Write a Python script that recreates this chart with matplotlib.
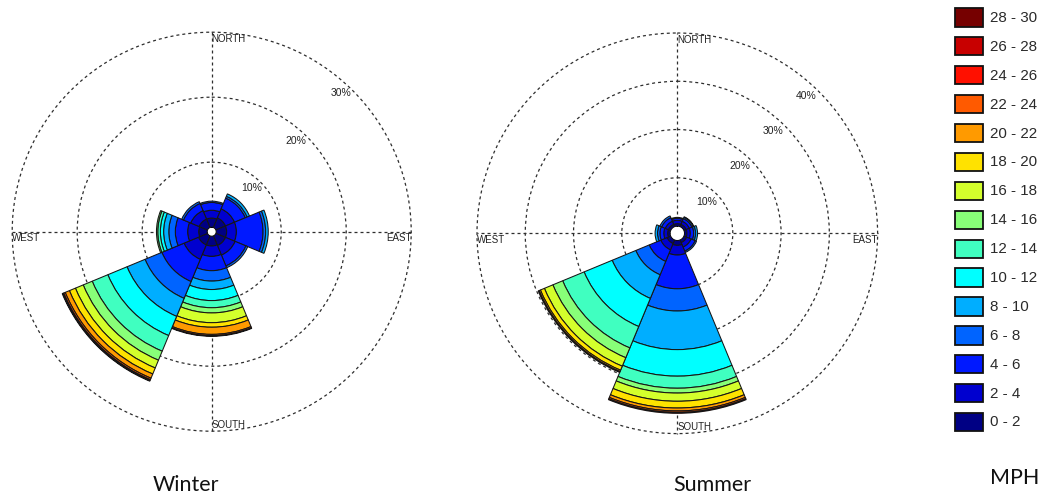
import numpy as np
import matplotlib
matplotlib.use("Agg")
import matplotlib.pyplot as plt
import matplotlib.transforms as mtransforms
from matplotlib.patches import Rectangle

# ---- data -------------------------------------------------------------
bearings_deg = [0, 45, 90, 135, 180, 225, 270, 315]          # N, NE, E, SE, S, SW, W, NW
speed_bins = ["0 - 2", "2 - 4", "4 - 6", "6 - 8", "8 - 10", "10 - 12", "12 - 14",
              "14 - 16", "16 - 18", "18 - 20", "20 - 22", "22 - 24", "24 - 26",
              "26 - 28", "28 - 30"]
bin_colors = ["#000084", "#0000cf", "#0019ff", "#0064ff", "#00aeff", "#00ffff",
              "#40ffc0", "#88ff78", "#d4ff2c", "#ffe200", "#ff9a00", "#ff5a00",
              "#ff1000", "#c80000", "#760000"]

# frequency (%) per speed bin, lowest bin first
winter_n = [1.4, 1.2, 1.2, 0.2]
winter_ne = [1.6, 1.5, 1.8, 0.3, 0.4]
winter_e = [1.6, 1.5, 4.1, 0.4, 0.4]
winter_se = [1.6, 1.6, 1.8, 0.3]
winter_s = [1.5, 1.6, 2.2, 1.6, 1.3, 1.7, 1.1, 0.8, 1.5, 0.7, 1.1, 0.2, 0.1]
winter_sw = [1.5, 2.4, 3.7, 2.8, 3.0, 3.2, 2.6, 1.5, 1.3, 1.0, 0.7, 0.25, 0.15, 0.1]
winter_w = [1.3, 1.7, 1.9, 1.0, 0.8, 0.5, 0.4, 0.2]
winter_nw = [1.4, 1.4, 1.2, 0.3]

summer_n = [0.5, 0.7, 0.4, 0.2]
summer_ne = [0.5, 0.7, 0.6, 0.3, 0.1]
summer_e = [0.5, 0.7, 0.7, 0.4, 0.4]
summer_se = [0.6, 1.0, 0.9, 0.3]
summer_s = [1.0, 2.0, 7.0, 4.6, 8.0, 5.5, 2.5, 1.0, 1.7, 1.4, 0.6, 0.3, 0.2]
summer_sw = [0.8, 1.4, 2.6, 3.0, 5.3, 6.3, 4.8, 2.2, 1.9, 0.9, 0.3, 0.2]
summer_w = [0.5, 0.8, 0.8, 0.5, 0.5]
summer_nw = [0.5, 0.7, 0.8, 0.4]

winter_rings = [10, 20, 30]
summer_rings = [10, 20, 30, 40]

winter = [winter_n, winter_ne, winter_e, winter_se, winter_s, winter_sw, winter_w, winter_nw]
summer = [summer_n, summer_ne, summer_e, summer_se, summer_s, summer_sw, summer_w, summer_nw]

# ---- figure -----------------------------------------------------------
W, H = 1042, 495
fig = plt.figure(figsize=(W / 100, H / 100), dpi=100)
fig.patch.set_facecolor("white")

small_font = dict(family=["Liberation Sans", "DejaVu Sans"], color="#222222")
grid_style = dict(color="#2e2e2e", linestyle=(0, (2.4, 2.4)), linewidth=0.9)


def px_axes(cx, cy, r):
    return fig.add_axes([(cx - r) / W, 1 - (cy + r) / H, 2 * r / W, 2 * r / H],
                        projection="polar")


def draw_rose(ax, table, rings, hole, label_inset):
    ax.set_theta_zero_location("N")
    ax.set_theta_direction(-1)
    width = np.deg2rad(45)
    for bearing, bins in zip(bearings_deg, table):
        bottom = 0.0
        for i, v in enumerate(bins):
            ax.bar(np.deg2rad(bearing), v, width=width, bottom=bottom,
                   color=bin_colors[i], edgecolor="#151515", linewidth=0.75,
                   align="center", zorder=3)
            bottom += v
    rmax = rings[-1]
    ax.set_ylim(0, rmax)
    ax.set_rorigin(-hole)
    ax.set_axisbelow(True)
    ax.set_rgrids(rings, labels=[""] * len(rings))
    ax.set_thetagrids([0, 90, 180, 270], labels=[""] * 4)
    ax.grid(True, **grid_style)
    ax.tick_params(length=0)
    ax.spines["polar"].set_visible(False)
    for gl in ax.yaxis.get_gridlines() + ax.xaxis.get_gridlines():
        gl.set_clip_on(False)

    # compass words on the outer ring
    fs = 7.0
    down = mtransforms.offset_copy(ax.transData, fig=fig, x=0, y=-1.2, units="points")
    ax.text(0, rmax, "NORTH", ha="left", va="top", fontsize=fs,
            transform=down, **small_font)
    ax.text(np.pi, rmax, "SOUTH", ha="left", va="bottom", fontsize=fs,
            transform=mtransforms.offset_copy(ax.transData, fig=fig, x=0, y=1.0, units="points"),
            **small_font)
    ax.text(1.5 * np.pi, rmax, "WEST", ha="left", va="top", fontsize=fs,
            transform=down, **small_font)
    ax.text(0.5 * np.pi, rmax, "EAST", ha="right", va="top", fontsize=fs,
            transform=down, **small_font)

    # percent labels along the north-east diagonal
    for v in rings:
        ax.text(np.deg2rad(43), v - label_inset, f"{v}%", ha="center", va="center",
                fontsize=7.5, **small_font)


ax_w = px_axes(211.7, 231.7, 199.5)
draw_rose(ax_w, winter, winter_rings, hole=0.7, label_inset=1.6)

ax_s = px_axes(677.3, 233.3, 200.3)
draw_rose(ax_s, summer, summer_rings, hole=1.5, label_inset=2.5)

# ---- colour key -------------------------------------------------------
key = fig.add_axes([0, 0, 1, 1], facecolor="none")
key.set_xlim(0, W)
key.set_ylim(H, 0)
key.axis("off")
for j, (lab, col) in enumerate(zip(speed_bins[::-1], bin_colors[::-1])):
    top = 8.3 + 28.9 * j
    key.add_patch(Rectangle((955, top), 27.7, 18.3, facecolor=col,
                            edgecolor="#111111", linewidth=1.3))
    key.text(989.5, top + 9.6, lab, ha="left", va="center", fontsize=10.9,
             family=["Liberation Sans", "DejaVu Sans"], color="#2a2a2a")

title_font = dict(family=["Lato", "DejaVu Sans"], color="#111111")
key.text(186, 485, "Winter", ha="center", va="center", fontsize=15.5, **title_font)
key.text(712, 485, "Summer", ha="center", va="center", fontsize=15.5, **title_font)
key.text(1015, 478, "MPH", ha="center", va="center", fontsize=15.5, **title_font)

fig.savefig("out.png", dpi=100, facecolor="white")
